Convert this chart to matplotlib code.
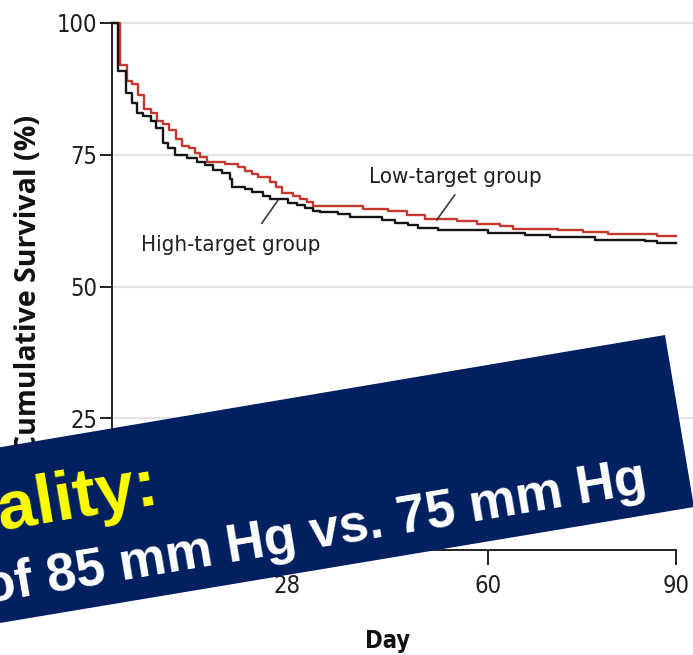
import matplotlib
matplotlib.use("Agg")
import matplotlib.pyplot as plt
from matplotlib.patches import Polygon

# Kaplan-Meier steps (day, cumulative survival %)
days_high = [0, 1.0, 2.2, 3.2, 4.0, 4.9, 6.3, 7.1, 8.1, 9.0, 10.0, 11.9, 13.5, 14.8, 16.1,
             17.5, 18.8, 19.2, 21.2, 22.3, 24.1, 25.2, 28.1, 29.5, 30.8, 32.1, 33.2, 36.0,
             38.0, 43.1, 45.1, 47.2, 48.8, 52.0, 60.0, 65.9, 69.9, 77.0, 85.0, 86.9, 90]
surv_high = [100, 90.9, 86.7, 84.8, 83.0, 82.3, 81.4, 80.1, 77.2, 76.2, 74.9, 74.3, 73.6, 73.1, 72.1,
             71.5, 70.4, 68.9, 68.5, 67.9, 67.2, 66.6, 65.8, 65.5, 64.9, 64.3, 64.1, 63.8,
             63.2, 62.6, 62.1, 61.7, 61.1, 60.7, 60.2, 59.8, 59.4, 58.9, 58.6, 58.2, 58.2]

days_low = [0, 1.3, 2.4, 3.2, 4.2, 5.1, 6.3, 7.2, 8.2, 9.1, 10.2, 11.1, 12.3, 13.2, 14.0,
            15.1, 18.0, 20.1, 21.2, 22.3, 23.3, 25.2, 26.2, 27.1, 28.9, 30.0, 31.1, 32.1,
            40.0, 44.0, 47.0, 49.9, 55.0, 58.2, 61.9, 64.0, 71.1, 75.1, 79.1, 86.9, 90]
surv_low = [100, 92.0, 89.0, 88.4, 86.3, 83.7, 82.9, 81.4, 80.8, 79.7, 78.0, 76.7, 76.2, 75.3, 74.6,
            73.6, 73.2, 72.7, 71.9, 71.3, 70.8, 69.8, 68.9, 67.7, 67.2, 66.6, 66.0, 65.3,
            64.7, 64.4, 63.6, 62.9, 62.5, 61.9, 61.5, 61.0, 60.7, 60.3, 59.9, 59.5, 59.5]

x_ticks = [0, 28, 60, 90]
y_ticks = [0, 25, 50, 75, 100]

banner_title = "ality:"
banner_sub = "of 85 mm Hg vs. 75 mm Hg"

W, H = 693, 655
fig = plt.figure(figsize=(W / 100, H / 100), dpi=100)
ax = fig.add_axes([112 / W, 105 / H, 581 / W, 527 / H])

narrow = dict(family=["Liberation Sans Narrow", "DejaVu Sans"], stretch="condensed")
ink = "#1e1e24"

ax.step(days_low, surv_low, where="post", color="#c8372d", lw=1.7, clip_on=False, zorder=3)
ax.step(days_high, surv_high, where="post", color="#151515", lw=1.7, clip_on=False, zorder=4)

ax.set_xlim(0, 92.7)
ax.set_ylim(0, 100)
for s in ["top", "right"]:
    ax.spines[s].set_visible(False)
ax.spines["left"].set_bounds(0, 100)
ax.spines["bottom"].set_bounds(0, 90)
for s in ["left", "bottom"]:
    ax.spines[s].set_linewidth(1.4)
    ax.spines[s].set_color("#222222")

ax.set_xticks(x_ticks)
ax.set_yticks(y_ticks)
ax.tick_params(axis="x", length=11, width=1.4, color="#222222", pad=6, labelcolor=ink)
ax.tick_params(axis="y", length=9, width=1.4, color="#222222", pad=1.5, labelcolor=ink)
for lab in ax.get_xticklabels() + ax.get_yticklabels():
    lab.set_fontfamily(narrow["family"])
    lab.set_fontstretch("condensed")
    lab.set_fontsize(17)

for v in y_ticks[1:]:
    ax.axhline(v, color="#e4e4e4", lw=1.6, zorder=1, clip_on=False)

# group labels with leader lines
ax.text(19.0, 57.9, "High-target group", ha="center", va="center", fontsize=16,
        color=ink, **narrow)
ax.annotate("", xy=(26.5, 66.4), xytext=(23.9, 62.0),
            arrowprops=dict(arrowstyle="-", color="#3a3a3a", lw=1.2, shrinkA=0, shrinkB=0))
ax.text(54.7, 70.8, "Low-target group", ha="center", va="center", fontsize=16,
        color=ink, **narrow)
ax.annotate("", xy=(51.8, 62.6), xytext=(54.7, 67.4),
            arrowprops=dict(arrowstyle="-", color="#3a3a3a", lw=1.2, shrinkA=0, shrinkB=0))

fig.text(29 / W, 1 - 284 / H, "Cumulative Survival (%)", rotation=90, ha="center", va="center",
         fontsize=20.5, fontweight="bold", family="Open Sans", color="#111111")
fig.text(388 / W, 1 - 641 / H, "Day", ha="center", va="center", fontsize=17,
         fontweight="bold", color="#111111", **narrow)

# rotated navy banner laid over the chart
corners = [(-120, 467.5), (665, 335), (694, 507), (-120, 643)]
banner = Polygon([(x / W, 1 - y / H) for x, y in corners], closed=True,
                 transform=fig.transFigure, facecolor="#00205f", edgecolor="none", zorder=10)
fig.add_artist(banner)

fig.text(160 / W, 1 - 503 / H, banner_title, rotation=9.5, rotation_mode="anchor",
         ha="right", va="baseline", fontsize=50, fontweight="bold", color="#ffff00",
         family="Liberation Sans", zorder=11)
fig.text(648 / W, 1 - 492 / H, banner_sub, rotation=9.5, rotation_mode="anchor",
         ha="right", va="baseline", fontsize=38, fontweight="bold", color="white",
         family="Liberation Sans", zorder=11)

fig.savefig("out.png", dpi=100)
